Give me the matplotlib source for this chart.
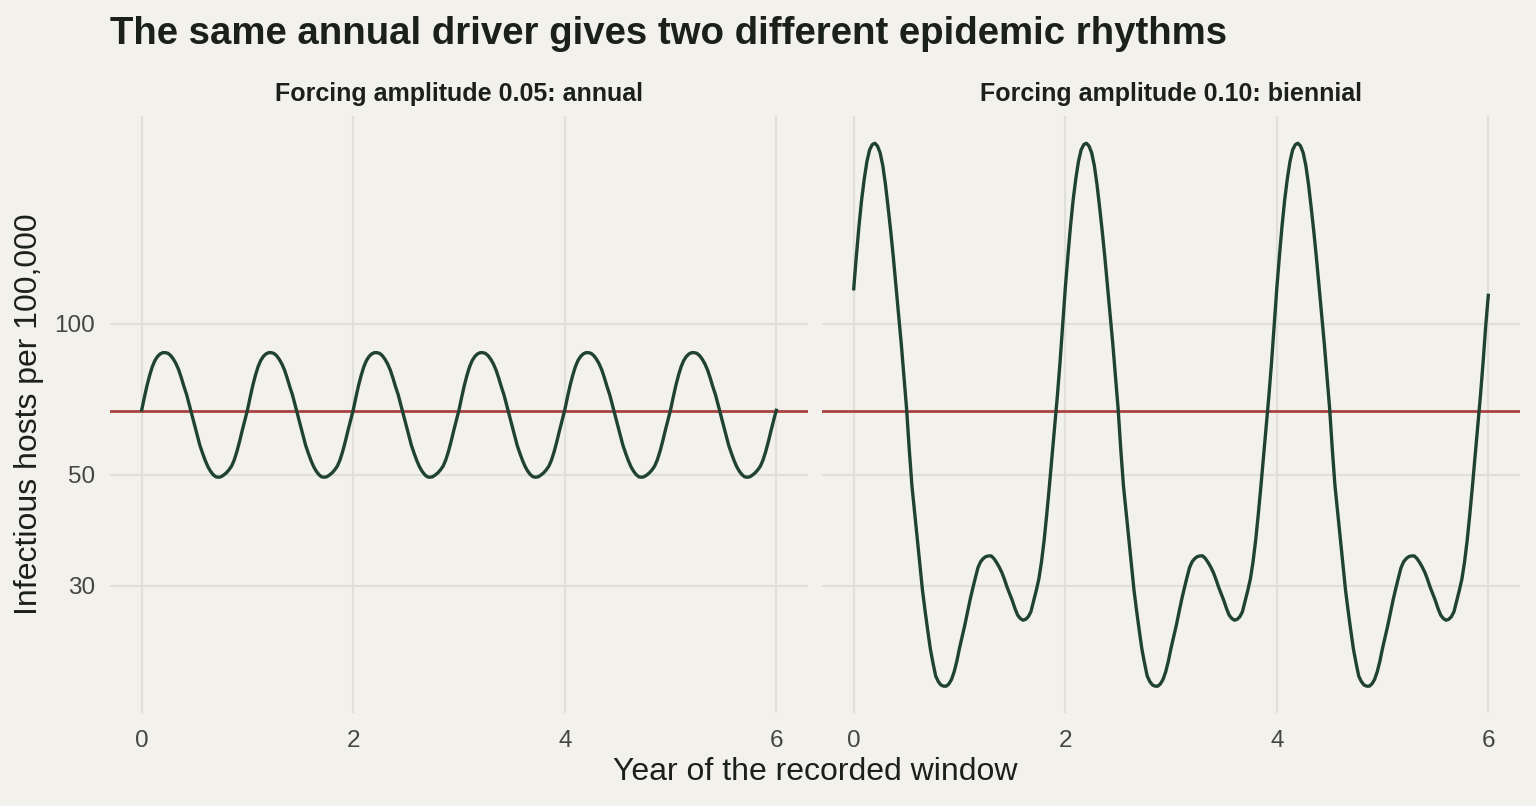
import numpy as np
import matplotlib
matplotlib.use("Agg")
import matplotlib.pyplot as plt
from matplotlib.ticker import FixedLocator, FixedFormatter, NullLocator

plt.rcParams['font.family'] = ['Liberation Sans', 'DejaVu Sans']

# sampling times (years), read every 0.025 year over the 6-year window
years = np.round(np.arange(0, 241) * 0.025, 3)

# one year of the annual-rhythm panel (amplitude 0.05), read at t = 0 .. 0.975
annual_cycle = [
    67.3, 71.3, 75.3, 78.9, 82.1, 84.5, 86.1, 87.1, 87.6, 87.6,
    87.3, 86.4, 85.0, 83.2, 80.9, 78.0, 74.9, 72.2, 68.9, 65.8,
    62.7, 59.8, 57.2, 55.2, 53.4, 51.9, 50.8, 50.0, 49.5, 49.4,
    49.5, 49.9, 50.4, 51.1, 52.0, 53.5, 55.6, 58.2, 61.2, 64.2,
]
# two years of the biennial-rhythm panel (amplitude 0.10), read at t = 0 .. 1.975
biennial_cycle = [
    117.5, 136.5, 157.0, 177.0, 195.0, 211.0, 222.5, 228.0, 229.5, 226.5,
    219.5, 207.0, 190.0, 171.0, 153.0, 135.5, 118.5, 104.0, 91.0, 78.6,
    67.7, 56.2, 47.6, 42.2, 37.3, 33.1, 29.4, 26.7, 24.4, 22.4,
    21.0, 19.8, 19.3, 19.0, 18.9, 18.9, 19.1, 19.5, 20.2, 21.2,
    22.5, 23.7, 25.0, 26.5, 28.1, 29.6, 31.1, 32.6, 33.5, 34.0,
    34.3, 34.4, 34.4, 34.0, 33.4, 32.7, 31.9, 30.9, 29.8, 28.9,
    28.0, 27.0, 26.2, 25.8, 25.6, 25.7, 26.0, 26.6, 27.9, 29.3,
    30.9, 33.4, 36.9, 41.6, 47.4, 54.4, 62.3, 71.6, 83.4, 98.7,
]
# the recorded cycles repeat; last reading at year 6
annual = annual_cycle * 6 + [67.2]
biennial = biennial_cycle * 3 + [114.0]

equilibrium = 67.1
panel_titles = ["Forcing amplitude 0.05: annual",
                "Forcing amplitude 0.10: biennial"]
x_ticks = [0, 2, 4, 6]
y_ticks = [30, 50, 100]

bg = "#f2f1eb"
grid_c = "#e1e0d6"
line_c = "#1f4330"
ref_c = "#a84242"
text_c = "#1b201c"

fig, axes = plt.subplots(1, 2, sharey=True, figsize=(15.36, 8.06), dpi=100)
fig.patch.set_facecolor(bg)
fig.subplots_adjust(left=0.0716, right=0.9896, bottom=0.115, top=0.856, wspace=0.02)

for ax, series, title in zip(axes, [annual, biennial], panel_titles):
    ax.set_facecolor(bg)
    ax.set_yscale('log')
    ax.plot(years, series, color=line_c, lw=2.4, zorder=3)
    ax.axhline(equilibrium, color=ref_c, lw=2.0, zorder=2)
    ax.set_title(title, fontsize=18, fontweight='bold', color=text_c, pad=11)
    for s in ax.spines.values():
        s.set_visible(False)
    ax.xaxis.set_major_locator(FixedLocator(x_ticks))
    ax.yaxis.set_major_locator(FixedLocator(y_ticks))
    ax.yaxis.set_major_formatter(FixedFormatter([str(v) for v in y_ticks]))
    ax.yaxis.set_minor_locator(NullLocator())
    ax.grid(True, color=grid_c, lw=1.6, zorder=0)
    ax.set_axisbelow(True)
    ax.tick_params(axis='x', length=0, labelsize=17.5, labelcolor="#454545", pad=12)
    ax.tick_params(axis='y', length=0, labelsize=17.5, labelcolor="#454545", pad=11)

axes[0].set_ylabel("Infectious hosts per 100,000", fontsize=23, color=text_c)
axes[0].yaxis.set_label_coords(-0.094, 0.5)
fig.text(0.531, 0.042, "Year of the recorded window", fontsize=23, color=text_c,
         ha='center', va='center')
fig.text(0.0716, 0.945, "The same annual driver gives two different epidemic rhythms",
         ha='left', va='baseline', fontsize=27.6, fontweight='bold', color=text_c)

plt.savefig("out.png", dpi=100, facecolor=bg)
